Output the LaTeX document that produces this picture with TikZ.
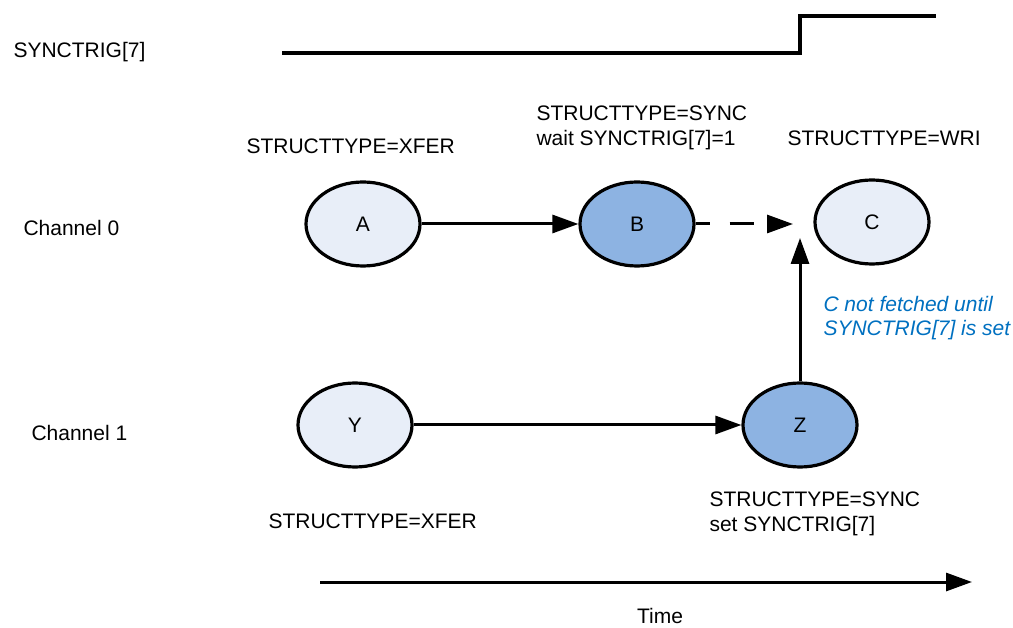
\documentclass[tikz,border=0pt]{standalone}
\usepackage{fontspec}
\setmainfont{Liberation Sans}
\usetikzlibrary{arrows.meta,positioning,shapes.geometric}
\definecolor{lightfill}{RGB}{232,238,248}
\definecolor{darkfill}{RGB}{141,179,226}
\definecolor{noteblue}{RGB}{0,112,192}
\tikzstyle{task} = [ellipse,
                    minimum width=114pt,
                    minimum height=84pt,
                    inner sep=0pt,
                    draw=black,
                    line width=3.2pt,
                    fill=lightfill]
\tikzstyle{synctask} = [task, fill=darkfill]
\tikzstyle{lbl} = [anchor=west, inner sep=0pt, align=left,
                   font=\fontsize{21}{24.5}\selectfont]
\tikzstyle{timing} = [x=1pt, y=-1pt,
                      >={Triangle[length=26pt,width=18pt]},
                      line width=3pt,
                      font=\fontsize{21}{24.5}\selectfont]

\begin{document}
\begin{tikzpicture}[timing]
    \useasboundingbox (0,0) rectangle (1013,628);
    % signal trace
    \node (sig) [lbl] at (12,52) {SYNCTRIG[7]};
    \draw[line width=3.5pt] (282,53) -- (800,53) -- (800,16) -- (936,16);
    % channel 0
    \node (ch0) [lbl] at (22,228) {Channel 0};
    \node (A) [task] at (363,224) {A};
    \node (B) [synctask] at (637,224) {B};
    \node (C) [task] at (872,222) {C};
    \node (la) [lbl] at (245,146) {STRUCTTYPE=XFER};
    \node (lb) [lbl] at (535,128) {STRUCTTYPE=SYNC\\wait SYNCTRIG[7]=1};
    \node (lc) [lbl] at (786,138) {STRUCTTYPE=WRI};
    % channel 1
    \node (ch1) [lbl] at (30,433) {Channel 1};
    \node (Y) [task] at (355,425) {Y};
    \node (Z) [synctask] at (800,425) {Z};
    \node (ly) [lbl] at (267,521) {STRUCTTYPE=XFER};
    \node (lz) [lbl] at (708,514) {STRUCTTYPE=SYNC\\set SYNCTRIG[7]};
    \node (note) [lbl, text=noteblue, font=\fontsize{21}{24.5}\selectfont\itshape] at (822,318)
      {C not fetched until\\SYNCTRIG[7] is set};
    \coordinate (cwait) at (793,224);
    \coordinate (cfetch) at (800,238);
    % time axis
    \coordinate (t0) at (320,582);
    \coordinate (t1) at (972,582);
    \node (time) [inner sep=0pt] at (660,616) {Time};
    \path[->]
      (A) edge (B)
      (B) edge [dash pattern=on 24pt off 20pt, dash phase=10pt] (cwait)
      (Z) edge (cfetch)
      (Y) edge (Z)
      (t0) edge (t1);
\end{tikzpicture}
\end{document}
